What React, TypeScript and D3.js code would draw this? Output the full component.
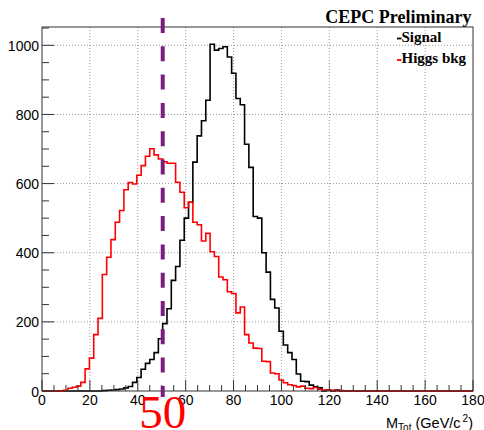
import React from 'react';
import * as d3 from 'd3';

const BIN_LOW = 0;
const BIN_HIGH = 180;
const N_BINS = 100;

const signalCounts = [
  0, 0, 0, 0, 0, 0, 0, 0, 0, 0,
  0, 0, 0, 0, 1, 2, 3, 4, 6, 9,
  13, 25, 39, 63, 80, 91, 111, 151, 195, 238,
  320, 360, 436, 500, 546, 662, 738, 782, 841, 1003,
  986, 991, 996, 966, 919, 846, 828, 714, 647, 505,
  500, 400, 344, 265, 240, 173, 133, 111, 91, 49,
  28, 27, 17, 12, 9, 0, 3, 0, 3, 0,
  0, 0, 0, 0, 0, 0, 0, 0, 0, 0,
  0, 0, 0, 0, 0, 0, 0, 0, 0, 0,
  0, 0, 0, 0, 0, 0, 0, 0, 0, 0,
];

const higgsBkgCounts = [
  0, 0, 0, 0, 0, 2, 8, 11, 14, 25,
  64, 95, 163, 210, 337, 387, 438, 488, 522, 582,
  603, 599, 624, 652, 679, 701, 683, 671, 663, 659,
  659, 604, 575, 530, 546, 488, 481, 434, 456, 403,
  389, 330, 322, 287, 282, 226, 243, 163, 139, 124,
  123, 86, 85, 52, 50, 32, 24, 18, 16, 12,
  14, 8, 7, 10, 5, 3, 2, 2, 1, 1,
  0, 0, 0, 0, 0, 0, 0, 0, 0, 0,
  0, 0, 0, 0, 0, 0, 0, 0, 0, 0,
  0, 0, 0, 0, 0, 0, 0, 0, 0, 0,
];

const xTickValues = [0, 20, 40, 60, 80, 100, 120, 140, 160, 180];
const yTickValues = [0, 200, 400, 600, 800, 1000];
const legendLabels = ['Signal', 'Higgs bkg'];
const legendColors = ['#000000', '#ff0000'];
const cutValue = 50;
const yMax = 1053;

export default function App() {
  const W = 484;
  const H = 430;
  const left = 42, right = 473, top = 27, bottom = 391;
  const x = d3.scaleLinear().domain([BIN_LOW, BIN_HIGH]).range([left, right]);
  const y = d3.scaleLinear().domain([0, yMax]).range([bottom, top]);
  const edges = d3.range(N_BINS + 1).map((i) => BIN_LOW + (i * (BIN_HIGH - BIN_LOW)) / N_BINS);

  const stepPath = (counts: number[]) => {
    const pts: [number, number][] = counts.map((c, i) => [edges[i], c]);
    pts.push([edges[N_BINS], counts[N_BINS - 1]]);
    return d3
      .line<[number, number]>()
      .x((d) => x(d[0]))
      .y((d) => y(d[1]))
      .curve(d3.curveStepAfter)(pts) as string;
  };

  const xMinor = d3.range(BIN_LOW, BIN_HIGH + 0.1, 5).filter((v) => v % 20 !== 0);
  const yMinor = d3.range(0, yMax, 50).filter((v) => v % 200 !== 0);
  const sans = "'Liberation Sans', Arial, Helvetica, sans-serif";
  const serif = "'Liberation Serif', 'Times New Roman', serif";
  const gridColor = '#9a9a9a';
  const axisColor = '#333';

  return (
    <svg
      width={W}
      height={H}
      style={{ position: 'absolute', left: 0, top: 0, background: '#fff' }}
    >
      <rect x={0} y={0} width={W} height={H} fill="#fff" />
      {/* grid */}
      {xTickValues
        .filter((v) => v > BIN_LOW && v < BIN_HIGH)
        .map((v) => (
          <line
            key={'gx' + v}
            x1={x(v)}
            x2={x(v)}
            y1={top}
            y2={bottom}
            stroke={gridColor}
            strokeWidth={1}
            strokeDasharray="1 2"
          />
        ))}
      {yTickValues
        .filter((v) => v > 0)
        .map((v) => (
          <line
            key={'gy' + v}
            x1={left}
            x2={right}
            y1={y(v)}
            y2={y(v)}
            stroke={gridColor}
            strokeWidth={1}
            strokeDasharray="1 2"
          />
        ))}

      {/* histograms */}
      <path d={stepPath(signalCounts)} fill="none" stroke="#000" strokeWidth={1.6} />
      <path d={stepPath(higgsBkgCounts)} fill="none" stroke="#ff0000" strokeWidth={1.6} />

      {/* frame */}
      <rect
        x={left}
        y={top}
        width={right - left}
        height={bottom - top}
        fill="none"
        stroke={axisColor}
        strokeWidth={1}
      />

      {/* x ticks */}
      {xTickValues.map((v) => (
        <g key={'xt' + v}>
          <line x1={x(v)} x2={x(v)} y1={bottom} y2={bottom - 11} stroke={axisColor} strokeWidth={1} />
          <text x={x(v)} y={405} textAnchor="middle" fontFamily={sans} fontSize={14} fill="#000">
            {v}
          </text>
        </g>
      ))}
      {xMinor.map((v) => (
        <line key={'xm' + v} x1={x(v)} x2={x(v)} y1={bottom} y2={bottom - 6} stroke={axisColor} strokeWidth={1} />
      ))}

      {/* y ticks */}
      {yTickValues.map((v) => (
        <g key={'yt' + v}>
          <line x1={left} x2={left + 12} y1={y(v)} y2={y(v)} stroke={axisColor} strokeWidth={1} />
          <text x={39} y={y(v) + 5.5} textAnchor="end" fontFamily={sans} fontSize={14} fill="#000">
            {v}
          </text>
        </g>
      ))}
      {yMinor.map((v) => (
        <line key={'ym' + v} x1={left} x2={left + 7} y1={y(v)} y2={y(v)} stroke={axisColor} strokeWidth={1} />
      ))}

      {/* axis title */}
      <text x={right} y={428} textAnchor="end" fontFamily={sans} fontSize={14.5} fill="#000">
        M
        <tspan fontSize={10} dy={3}>Tot</tspan>
        <tspan dy={-3}> (GeV/c</tspan>
        <tspan fontSize={10} dy={-6} dx={2}>2</tspan>
        <tspan dy={6}>)</tspan>
      </text>

      {/* cut line */}
      <line
        x1={x(cutValue) + 1}
        x2={x(cutValue) + 1}
        y1={18}
        y2={397}
        stroke="#7a1e7e"
        strokeWidth={4}
        strokeDasharray="15 13.3"
      />
      <text
        x={x(cutValue) + 1}
        y={428}
        textAnchor="middle"
        fontFamily={serif}
        fontSize={47}
        fill="#ff0000"
      >
        {cutValue}
      </text>

      {/* title */}
      <text x={471.5} y={22.7} textAnchor="end" fontFamily={serif} fontWeight="bold" fontSize={18} fill="#000">
        CEPC Preliminary
      </text>

      {/* legend */}
      {legendLabels.map((lab, i) => (
        <g key={lab}>
          <line
            x1={397}
            x2={401.5}
            y1={38.5 + i * 21.5}
            y2={38.5 + i * 21.5}
            stroke={legendColors[i]}
            strokeWidth={1.8}
          />
          <text x={401.5} y={41.7 + i * 21.6} fontFamily={serif} fontWeight="bold" fontSize={15} fill="#000">
            {lab}
          </text>
        </g>
      ))}
    </svg>
  );
}
